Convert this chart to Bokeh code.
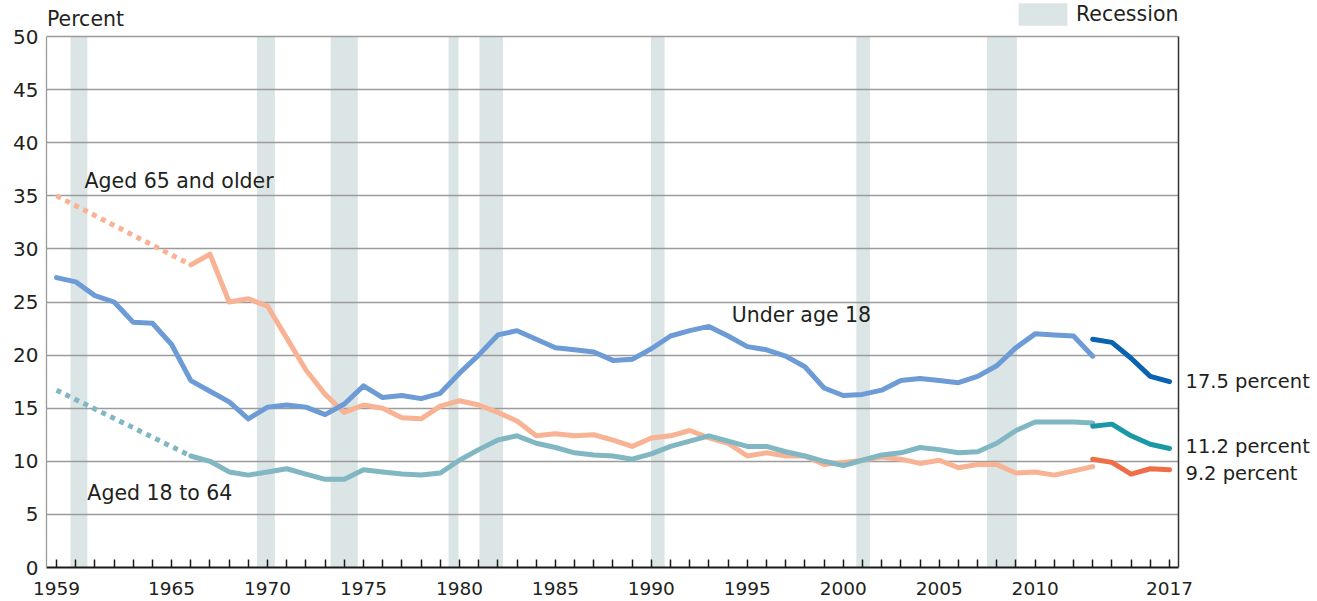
from bokeh.plotting import figure
from bokeh.models import Range1d, FixedTicker, LinearAxis, Label, Legend, LegendItem
from bokeh.embed import file_html
from bokeh.resources import INLINE

# ---------------- data ----------------
years_u18 = list(range(1959, 2014))
under18 = [27.3, 26.9, 25.6, 25.0, 23.1, 23.0, 21.0, 17.6, 16.6, 15.6,
           14.0, 15.1, 15.3, 15.1, 14.4, 15.4, 17.1, 16.0, 16.2, 15.9,
           16.4, 18.3, 20.0, 21.9, 22.3, 21.5, 20.7, 20.5, 20.3, 19.5,
           19.6, 20.6, 21.8, 22.3, 22.7, 21.8, 20.8, 20.5, 19.9, 18.9,
           16.9, 16.2, 16.3, 16.7, 17.6, 17.8, 17.6, 17.4, 18.0, 19.0,
           20.7, 22.0, 21.9, 21.8, 19.9]

years_adult = list(range(1966, 2014))
aged18_64 = [10.5, 10.0, 9.0, 8.7, 9.0, 9.3, 8.8, 8.3, 8.3, 9.2,
             9.0, 8.8, 8.7, 8.9, 10.1, 11.1, 12.0, 12.4, 11.7, 11.3,
             10.8, 10.6, 10.5, 10.2, 10.7, 11.4, 11.9, 12.4, 11.9, 11.4,
             11.4, 10.9, 10.5, 10.0, 9.6, 10.1, 10.6, 10.8, 11.3, 11.1,
             10.8, 10.9, 11.7, 12.9, 13.7, 13.7, 13.7, 13.6]
aged65 = [28.5, 29.5, 25.0, 25.3, 24.6, 21.6, 18.6, 16.3, 14.6, 15.3,
          15.0, 14.1, 14.0, 15.2, 15.7, 15.3, 14.6, 13.8, 12.4, 12.6,
          12.4, 12.5, 12.0, 11.4, 12.2, 12.4, 12.9, 12.2, 11.7, 10.5,
          10.8, 10.5, 10.5, 9.7, 9.9, 10.1, 10.4, 10.2, 9.8, 10.1,
          9.4, 9.7, 9.7, 8.9, 9.0, 8.7, 9.1, 9.5]

years_gap = [1959, 1966]
aged18_64_gap = [16.7, 10.5]
aged65_gap = [35.0, 28.5]

years_new = [2013, 2014, 2015, 2016, 2017]
under18_new = [21.5, 21.2, 19.7, 18.0, 17.5]
aged18_64_new = [13.3, 13.5, 12.4, 11.6, 11.2]
aged65_new = [10.2, 9.9, 8.8, 9.3, 9.2]

recession_start = [1959.73, 1969.45, 1973.29, 1979.43, 1981.04, 1989.98, 2000.68, 2007.49]
recession_end = [1960.61, 1970.38, 1974.70, 1979.95, 1982.27, 1990.69, 2001.39, 2009.05]

x_labelled = [1959, 1965, 1970, 1975, 1980, 1985, 1990, 1995, 2000, 2005, 2010, 2017]
y_ticks = [0, 5, 10, 15, 20, 25, 30, 35, 40, 45, 50]

series_labels = ["Aged 65 and older", "Under age 18", "Aged 18 to 64"]
end_labels = ["17.5 percent", "11.2 percent", "9.2 percent"]

# ---------------- styling ----------------
FONT = "DejaVu Sans"
TXT = "#231f20"
GRID = "#9b9b9b"
C_U18, C_U18_NEW = "#6d9bd5", "#0a63b0"
C_ADU, C_ADU_NEW = "#80b7c2", "#1a98a5"
C_OLD, C_OLD_NEW = "#f8b294", "#ef6d47"
BAND = "#dce5e5"
LW = 5

X0, X1 = 1958.48, 2017.47
p = figure(width=1312, height=601,
           x_range=Range1d(X0, X1), y_range=Range1d(0, 53.39),
           output_backend="svg", toolbar_location=None,
           min_border_left=46, min_border_right=131,
           min_border_top=0, min_border_bottom=34)
p.outline_line_color = None
p.background_fill_color = "white"
p.border_fill_color = "white"

# recession bands (below the grid)
bands = p.quad(left=recession_start, right=recession_end, bottom=0, top=50,
               fill_color=BAND, line_color=None, level="image")

# x axis
all_years = list(range(1959, 2018))
p.xaxis.ticker = FixedTicker(ticks=all_years)
p.xaxis.major_label_overrides = {y: (str(y) if y in x_labelled else "") for y in all_years}
p.xaxis.axis_line_color = "#1a1a1a"
p.xaxis.axis_line_width = 2
p.xaxis.major_tick_line_color = "#1a1a1a"
p.xaxis.major_tick_line_width = 1.5
p.xaxis.major_tick_in = 8
p.xaxis.major_tick_out = 0
p.xaxis.minor_tick_line_color = None
p.xaxis.major_label_standoff = 14
p.xaxis.major_label_text_font = FONT
p.xaxis.major_label_text_font_size = "18.5px"
p.xaxis.major_label_text_color = TXT

# y axis
p.yaxis.ticker = FixedTicker(ticks=y_ticks)
p.yaxis.bounds = (0, 50)
p.yaxis.axis_line_color = GRID
p.yaxis.axis_line_width = 1.3
p.yaxis.major_tick_in = 0
p.yaxis.major_tick_out = 0
p.yaxis.minor_tick_line_color = None
p.yaxis.major_label_standoff = 8
p.yaxis.major_label_text_font = FONT
p.yaxis.major_label_text_font_size = "20px"
p.yaxis.major_label_text_color = TXT

p.xgrid.grid_line_color = None
p.ygrid.ticker = FixedTicker(ticks=y_ticks)
p.ygrid.grid_line_color = GRID
p.ygrid.grid_line_width = 1.3

# right border axis carrying the end-of-series labels
end_pos = [17.51, 11.39, 8.85]
right_axis = LinearAxis(ticker=FixedTicker(ticks=end_pos), bounds=(0, 50),
                        major_label_overrides={v: t for v, t in zip(end_pos, end_labels)},
                        axis_line_color="#333333", axis_line_width=1.5,
                        major_tick_in=0, major_tick_out=0, minor_tick_line_color=None,
                        major_label_standoff=7, major_label_text_font=FONT,
                        major_label_text_font_size="19.5px", major_label_text_color=TXT)
p.add_layout(right_axis, "right")

# lines
p.line(years_gap, aged65_gap, line_width=LW, color=C_OLD, line_dash="5 5")
p.line(years_gap, aged18_64_gap, line_width=LW, color=C_ADU, line_dash="5 5")
p.line(years_adult, aged65, line_width=LW, color=C_OLD, line_join="round", line_cap="round")
p.line(years_adult, aged18_64, line_width=LW, color=C_ADU, line_join="round", line_cap="round")
p.line(years_u18, under18, line_width=LW, color=C_U18, line_join="round", line_cap="round")
p.line(years_new, aged65_new, line_width=LW, color=C_OLD_NEW, line_join="round", line_cap="round")
p.line(years_new, aged18_64_new, line_width=LW, color=C_ADU_NEW, line_join="round", line_cap="round")
p.line(years_new, under18_new, line_width=LW, color=C_U18_NEW, line_join="round", line_cap="round")

# text labels
def add_label(x, y, text, size="20.5px"):
    p.add_layout(Label(x=x, y=y, text=text, text_font=FONT, text_font_size=size,
                       text_color=TXT, text_baseline="middle", text_align="left"))

add_label(1960.46, 36.35, series_labels[0])
add_label(1994.19, 23.73, series_labels[1])
add_label(1960.61, 7.06, series_labels[2])
add_label(X0 + 0.02, 51.69, "Percent")

# recession legend
legend = Legend(items=[LegendItem(label="Recession", renderers=[bands])],
                location=(966, 539), orientation="horizontal",
                padding=0, margin=0, spacing=0,
                glyph_width=61, glyph_height=28, label_height=28,
                label_standoff=3, label_text_font=FONT, label_text_font_size="20.5px",
                label_text_color=TXT, border_line_color=None, background_fill_alpha=0)
p.add_layout(legend, "center")

open("out.html", "w").write(file_html(p, INLINE))
